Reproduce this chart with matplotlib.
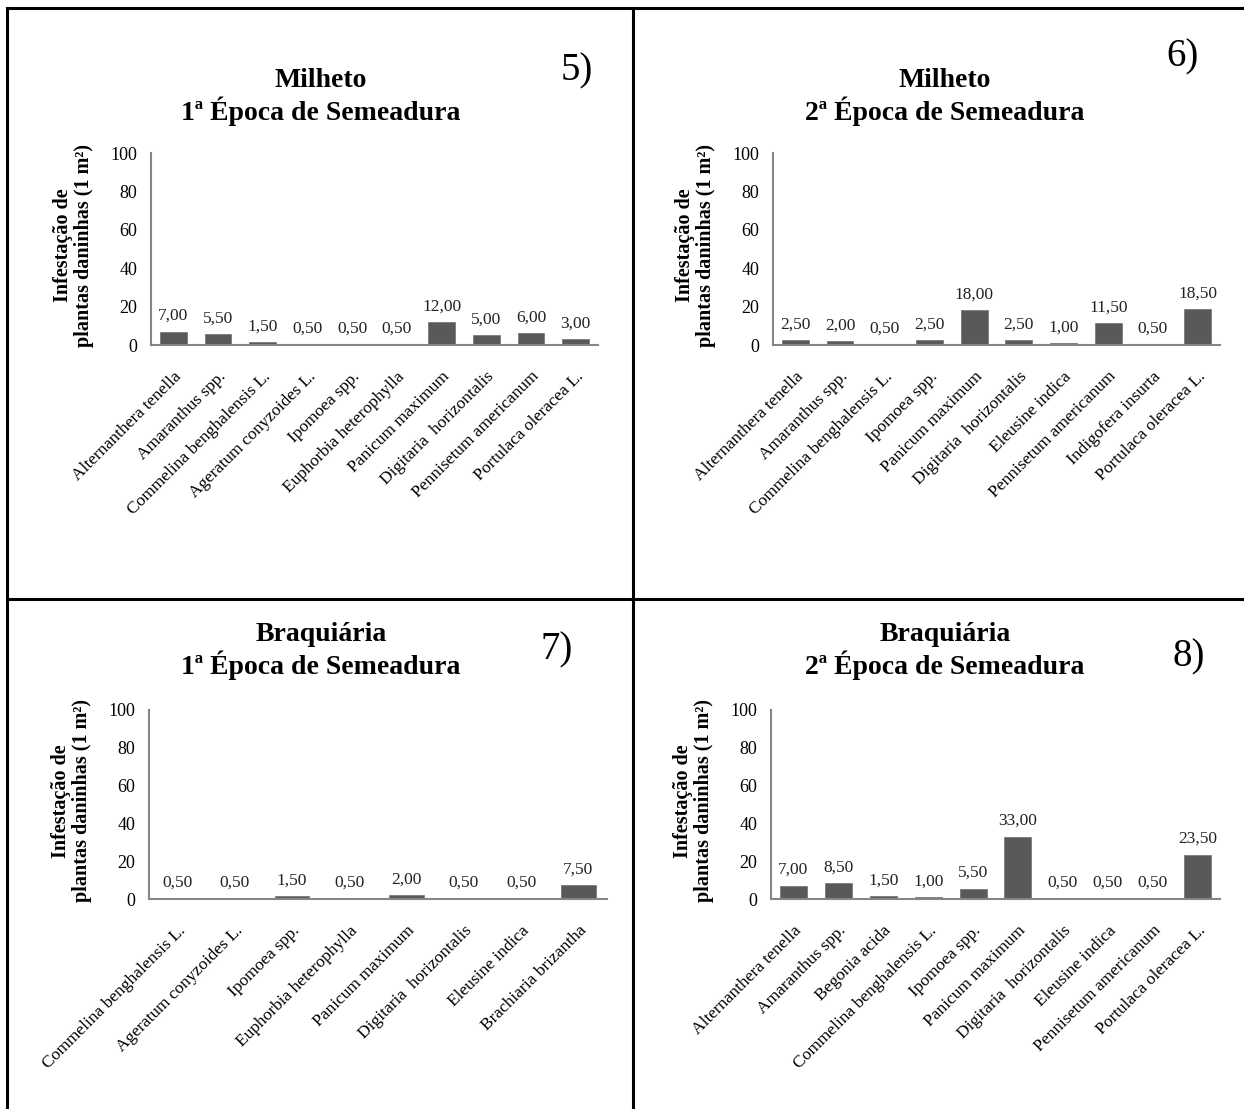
import matplotlib
matplotlib.use("Agg")
import matplotlib.pyplot as plt
from matplotlib.lines import Line2D

plt.rcParams["font.family"] = ["Liberation Serif", "DejaVu Serif"]

# Weed infestation per species (plants per 1 m²)
milheto_1_species = ["Alternanthera tenella", "Amaranthus spp.", "Commelina benghalensis L.",
                     "Ageratum conyzoides L.", "Ipomoea spp.", "Euphorbia heterophylla",
                     "Panicum maximum", "Digitaria  horizontalis", "Pennisetum americanum",
                     "Portulaca oleracea L."]
milheto_1_values = [7.0, 5.5, 1.5, 0.5, 0.5, 0.5, 12.0, 5.0, 6.0, 3.0]

milheto_2_species = ["Alternanthera tenella", "Amaranthus spp.", "Commelina benghalensis L.",
                     "Ipomoea spp.", "Panicum maximum", "Digitaria  horizontalis",
                     "Eleusine indica", "Pennisetum americanum", "Indigofera insurta",
                     "Portulaca oleracea L."]
milheto_2_values = [2.5, 2.0, 0.5, 2.5, 18.0, 2.5, 1.0, 11.5, 0.5, 18.5]

braquiaria_1_species = ["Commelina benghalensis L.", "Ageratum conyzoides L.", "Ipomoea spp.",
                        "Euphorbia heterophylla", "Panicum maximum", "Digitaria  horizontalis",
                        "Eleusine indica", "Brachiaria brizantha"]
braquiaria_1_values = [0.5, 0.5, 1.5, 0.5, 2.0, 0.5, 0.5, 7.5]

braquiaria_2_species = ["Alternanthera tenella", "Amaranthus spp.", "Begonia acida",
                        "Commelina benghalensis L.", "Ipomoea spp.", "Panicum maximum",
                        "Digitaria  horizontalis", "Eleusine indica", "Pennisetum americanum",
                        "Portulaca oleracea L."]
braquiaria_2_values = [7.0, 8.5, 1.5, 1.0, 5.5, 33.0, 0.5, 0.5, 0.5, 23.5]

titles = ["Milheto\n1ª Época de Semeadura", "Milheto\n2ª Época de Semeadura",
          "Braquiária\n1ª Época de Semeadura", "Braquiária\n2ª Época de Semeadura"]
numbers = ["5)", "6)", "7)", "8)"]
y_ticks = [0, 20, 40, 60, 80, 100]

W, H = 1244, 1109
fig = plt.figure(figsize=(W / 100, H / 100), dpi=100)


def fx(px):
    return px / W


def fy(py):
    return 1 - py / H


# (left, right, top, bottom) in pixels, title center, number center
panels = [
    (milheto_1_species, milheto_1_values, (151, 598, 153, 345), (321, 97), (577, 71)),
    (milheto_2_species, milheto_2_values, (773, 1220, 153, 345), (945, 97), (1183, 57)),
    (braquiaria_1_species, braquiaria_1_values, (149, 607, 710, 899), (321, 651), (557, 650)),
    (braquiaria_2_species, braquiaria_2_values, (771, 1220, 710, 899), (945, 651), (1189, 657)),
]

bar_color = "#595959"
axis_color = "#868686"

for i, (species, values, (l, r, t, b), (tx, ty), (nx, ny)) in enumerate(panels):
    ax = fig.add_axes([fx(l), fy(b), fx(r - l), (b - t) / H])
    xs = list(range(len(species)))
    bars = ax.bar(xs, values, width=0.6, color=bar_color, edgecolor="#7a7a7a", linewidth=0.6)
    for rect, v in zip(bars, values):
        ax.annotate(f"{v:.2f}".replace(".", ","),
                    (rect.get_x() + rect.get_width() / 2, rect.get_height()),
                    xytext=(0, 5.5), textcoords="offset points",
                    ha="center", va="bottom", fontsize=12.5, color="#222222")
    ax.set_xlim(-0.5, len(species) - 0.5)
    ax.set_ylim(0, 100)
    ax.set_yticks(y_ticks)
    ax.set_yticklabels([str(v) for v in y_ticks], fontsize=13)
    ax.set_xticks(xs)
    ax.set_xticklabels(species, rotation=45, ha="right", rotation_mode="anchor",
                       fontsize=12.5)
    ax.tick_params(axis="y", length=0, pad=10)
    ax.tick_params(axis="x", length=0, pad=17)
    for side in ("top", "right"):
        ax.spines[side].set_visible(False)
    for side in ("left", "bottom"):
        ax.spines[side].set_color(axis_color)
        ax.spines[side].set_linewidth(1.5)
    ax.set_ylabel("Infestação de\nplantas daninhas (1 m²)", fontsize=14.5,
                  fontweight="bold", linespacing=1.05)
    ax.yaxis.set_label_coords(-57 / (r - l), 0.52)

    fig.text(fx(tx), fy(ty), titles[i], ha="center", va="center", fontsize=20,
             fontweight="bold", linespacing=1.15)
    fig.text(fx(nx), fy(ny), numbers[i], ha="center", va="center", fontsize=28)

# panel frame lines
frame_kw = dict(color="black", linewidth=2.2, transform=fig.transFigure)
fig.add_artist(Line2D([fx(7), 1], [fy(8), fy(8)], **frame_kw))
fig.add_artist(Line2D([fx(7), fx(7)], [fy(8), 0], **frame_kw))
fig.add_artist(Line2D([fx(633), fx(633)], [fy(8), 0], **frame_kw))
fig.add_artist(Line2D([fx(7), 1], [fy(599), fy(599)], **frame_kw))

fig.savefig("out.png", dpi=100, facecolor="white")
